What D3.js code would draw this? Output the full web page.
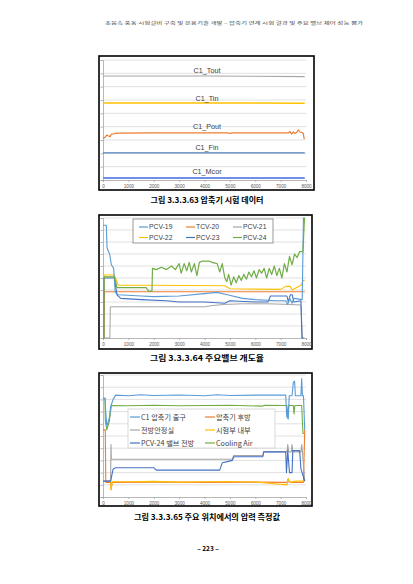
<!DOCTYPE html>
<html><head><meta charset="utf-8">
<script src="https://cdn.jsdelivr.net/npm/d3@7"></script>
<style>html,body{margin:0;padding:0;background:#fff}svg{display:block}</style>
</head><body>
<script>
// ---------- data ----------
const xTickValues = [0,1000,2000,3000,4000,5000,6000,7000,8000];
const xTickLabels = ["0","1000","2000","3000","4000","5000","6000","7000","8000"];

// Chart 1 (압축기 시험 데이터) – y in grid units (0..9)
const c1Names = ["C1_Tout","C1_Tin","C1_Pout","C1_Fin","C1_Mcor"];
const c1Tout = [[0,7.8],[600,7.8],[2000,7.8],[4000,7.8],[6000,7.78],[7950,7.75]];
const c1Tin  = [[0,5.78],[4000,5.78],[7950,5.76]];
const c1Pout = [[0,3.13],[80,3.2],[145,3.37],[220,3.3],[276,3.25],[340,3.45],[407,3.45],[500,3.5],[605,3.52],[2000,3.53],[4900,3.53],[5000,3.5],[5100,3.53],[7300,3.53],[7370,3.63],[7430,3.45],[7500,3.6],[7560,3.5],[7620,3.55],[7697,3.75],[7760,3.6],[7850,3.55],[7894,3.5],[7920,3.13],[7960,3.13]];
const c1Fin  = [[0,2.03],[4000,2.03],[7950,2.03]];
const c1Mcor = [[0,0.15],[4000,0.15],[7950,0.15]];

// Chart 2 (주요밸브 개도율) – percent
const c2Names = ["PCV-19","TCV-20","PCV-21","PCV-22","PCV-23","PCV-24"];
const pcv19 = [[0,94],[130,94],[160,75],[260,70],[330,61],[420,58],[480,38],[600,36],[1500,35],[2000,34.5],[3000,35],[4000,37],[4500,38],[4900,36],[5500,33],[6000,32],[6800,31],[7200,31],[7280,28],[7360,33],[7450,29],[7520,33],[7850,32],[7900,100],[7950,100]];
const tcv20 = [[0,0],[40,0],[60,38.5],[2000,38.5],[5000,38.5],[7950,38.5]];
const pcv21 = [[0,0],[270,0],[290,26],[1000,26],[2000,26],[3000,26],[4000,26],[4300,27],[4800,28],[5500,28.5],[6500,28.5],[7300,28],[7800,27.5],[7860,0],[7950,0]];
const pcv22 = [[0,0],[30,0],[40,52.5],[450,52.5],[600,44],[2000,44],[4800,43.5],[5000,41],[7000,40.5],[7200,43],[7380,43],[7450,40],[7800,44],[7900,48],[7950,48]];
const pcv23 = [[0,0],[30,0],[40,50],[450,50],[550,36],[700,33],[1500,32],[2500,31],[3000,30],[4000,30],[4800,29],[5000,31],[6000,30],[6500,30],[6600,35],[7250,35],[7300,30],[7380,36],[7460,36],[7520,30],[7800,31],[7840,0],[7900,0]];
const pcv24 = [[0,0],[30,0],[40,51],[450,51],[550,42],[1700,42],[1800,39],[1930,39],[1950,58],[2100,57],[2300,59],[2500,57],[2700,60],[2850,57],[3000,62],[3080,54],[3200,62],[3300,56],[3400,63],[3480,55],[3600,62],[3700,52],[3800,63],[3900,64],[4200,64],[4300,63],[4500,62],[4600,55],[4700,62],[4800,50],[4880,47],[4950,53],[5050,44],[5150,51],[5250,46],[5350,52],[5450,48],[5550,53],[5650,49],[5750,55],[5850,51],[5950,56],[6050,50],[6150,57],[6250,54],[6350,58],[6450,50],[6550,58],[6650,53],[6750,60],[6850,52],[6950,58],[7050,50],[7150,62],[7250,55],[7350,68],[7450,61],[7550,70],[7650,67],[7750,72],[7880,72],[7940,100]];

// Chart 3 (주요 위치에서의 압력 측정값) – y in grid units (0..10)
const c3Names = ["C1 압축기 출구","압축기 후방","전방안정실","시험부 내부","PCV-24 밸브 전방","Cooling Air"];
const p1 = [[0,8.1],[80,8.1],[100,7.2],[150,5.8],[250,6.5],[300,7.4],[400,8.0],[500,8.35],[1000,8.3],[1500,8.38],[2000,8.32],[3000,8.36],[4000,8.3],[4500,8.38],[5000,8.32],[6000,8.35],[7200,8.35],[7240,6.6],[7300,6.4],[7340,8.3],[7450,8.3],[7500,9.4],[7550,9.5],[7580,8.3],[7800,8.3],[7830,9.7],[7860,8.3],[7900,8.3],[7950,5.5]];
const p2 = [[0,5.5],[90,5.5],[110,1.2],[300,1.2],[320,0.6],[360,1.2],[2000,1.22],[4000,1.2],[6000,1.22],[7250,1.2],[7300,1.5],[7350,1.2],[7900,1.2],[7950,5.5]];
const p3 = [[0,1.3],[300,1.3],[315,4.3],[330,3.1],[5100,3.1],[5150,3.4],[6300,3.4],[6330,3.7],[7250,3.7],[7280,4.3],[7320,3.7],[7420,3.7],[7450,4.3],[7480,3.7],[7800,3.7],[7830,4.3],[7860,3.7],[7950,1.3]];
const p4 = [[0,1.3],[300,1.3],[320,0.6],[360,1.25],[1000,1.25],[2000,1.28],[3000,1.22],[4000,1.25],[5000,1.27],[6000,1.23],[7250,1.0],[7300,1.5],[7350,1.2],[7600,1.3],[7950,1.3]];
const p5 = [[0,1.3],[300,1.3],[330,1.6],[400,2.3],[500,2.4],[2000,2.4],[2100,2.2],[4600,2.2],[4700,2.8],[4900,2.9],[5100,3.0],[5150,3.3],[6300,3.3],[6330,3.7],[7200,3.7],[7230,2.0],[7280,3.8],[7350,2.0],[7450,2.0],[7480,3.8],[7750,3.8],[7800,2.3],[7950,1.3]];
const p6 = [[0,8.1],[80,8.1],[90,6.3],[150,5.5],[250,6.2],[330,7.5],[1000,7.48],[2000,7.52],[3000,7.48],[4000,7.5],[5000,7.52],[6300,7.45],[6350,7.52],[7250,7.5],[7280,6.6],[7320,7.5],[7500,7.5],[7530,6.8],[7560,7.5],[7830,7.5],[7880,5.2],[7950,5.2]];

const headerText = "초음속 풍동 시험설비 구축 및 운용기술 개발 – 압축기 연계 시험 결과 및 주요 밸브 제어 성능 평가";
const captions = ["그림 3.3.3.63 압축기  시험  데이터","그림 3.3.3.64 주요밸브 개도율","그림 3.3.3.65 주요 위치에서의 압력 측정값"];
const pageNumber = "– 223 –";

// ---------- drawing ----------
const W = 413, H = 584;
const svg = d3.select("body").append("svg").attr("width", W).attr("height", H);
svg.append("rect").attr("width", W).attr("height", H).attr("fill", "#fff");

const colBlue = "#5B9BD5", colOrange = "#ED7D31", colGrey = "#A5A5A5", colGold = "#FFC000", colDBlue = "#4472C4", colGreen = "#70AD47";
const fontTxt = "'Noto Sans CJK KR','Noto Sans',sans-serif";

svg.append("text").attr("x", 105).attr("y", 24.5).attr("font-size", 4).attr("fill", "#444")
  .attr("font-family", fontTxt).attr("textLength", 258).attr("lengthAdjust", "spacingAndGlyphs").text(headerText);

function chart(cfg) {
  const g = svg.append("g");
  g.append("rect").attr("x", cfg.frame[0]).attr("y", cfg.frame[1])
    .attr("width", cfg.frame[2] - cfg.frame[0]).attr("height", cfg.frame[3] - cfg.frame[1])
    .attr("fill", "#fff").attr("stroke", "#000").attr("stroke-width", 1.6);
  const x = d3.scaleLinear().domain([0, 8000]).range([103, 306]);
  const y = d3.scaleLinear().domain([0, cfg.ymax]).range([cfg.bottom, cfg.top]);
  const yt = d3.range(0, cfg.ymax + 0.001, 1);
  g.append("g").selectAll("line").data(yt.slice(1)).join("line")
    .attr("x1", 103).attr("x2", 306).attr("y1", d => y(d)).attr("y2", d => y(d))
    .attr("stroke", "#D9D9D9").attr("stroke-width", 0.8);
  // y axis with ticks, no labels
  const ya = g.append("g").attr("transform", "translate(103,0)")
    .call(d3.axisLeft(y).tickValues(yt).tickSize(2.5).tickFormat(""));
  ya.selectAll("path,line").attr("stroke", "#A6A6A6").attr("stroke-width", 0.8);
  const xa = g.append("g").attr("transform", `translate(0,${cfg.bottom})`)
    .call(d3.axisBottom(x).tickValues(xTickValues).tickSize(2).tickFormat((d, i) => xTickLabels[i]));
  xa.selectAll("path,line").attr("stroke", "#A6A6A6").attr("stroke-width", 0.8);
  xa.selectAll("text").attr("font-size", 4.6).attr("fill", "#595959").attr("font-family", "'Liberation Sans',sans-serif").attr("dy", "0.55em");
  const line = d3.line().x(d => x(d[0])).y(d => y(d[1]));
  cfg.series.forEach(s => {
    g.append("path").datum(s.data).attr("d", line).attr("fill", "none")
      .attr("stroke", s.color).attr("stroke-width", s.w || 1.1).attr("stroke-linejoin", "round");
  });
  return {g, x, y};
}

// Chart 1
const ch1 = chart({frame: [99, 56, 314, 190], top: 60, bottom: 180, ymax: 9, series: [
  {data: c1Tout, color: colGrey, w: 1.2},
  {data: c1Tin, color: colGold, w: 1.4},
  {data: c1Pout, color: colOrange, w: 1.2},
  {data: c1Fin, color: "#4F81BD", w: 1.2},
  {data: c1Mcor, color: "#6F8FE8", w: 2}
]});
const lbl1 = [[c1Names[0], 7.8], [c1Names[1], 5.78], [c1Names[2], 3.53], [c1Names[3], 2.03], [c1Names[4], 0.15]];
const lblOff = [3.5, 2.2, 4.2, 3.2, 4.0];
ch1.g.selectAll("text.lbl").data(lbl1).join("text").attr("class", "lbl")
  .attr("x", 207).attr("y", (d, i) => ch1.y(d[1]) - lblOff[i]).attr("text-anchor", "middle")
  .attr("font-size", 7.2).attr("fill", "#404040").attr("font-family", "'Liberation Sans',sans-serif").text(d => d[0]);

// Chart 2
const ch2 = chart({frame: [99, 215, 312, 349], top: 218, bottom: 338, ymax: 10, series: [
  {data: pcv21.map(d => [d[0], d[1] / 10]), color: colGrey, w: 1},
  {data: tcv20.map(d => [d[0], d[1] / 10]), color: colOrange},
  {data: pcv22.map(d => [d[0], d[1] / 10]), color: colGold},
  {data: pcv23.map(d => [d[0], d[1] / 10]), color: colDBlue},
  {data: pcv19.map(d => [d[0], d[1] / 10]), color: colBlue},
  {data: pcv24.map(d => [d[0], d[1] / 10]), color: colGreen, w: 1.2}
]});
const c2Colors = [colBlue, colOrange, colGrey, colGold, colDBlue, colGreen];
{
  const lg = ch2.g.append("g");
  lg.append("rect").attr("x", 133).attr("y", 219).attr("width", 140).attr("height", 24)
    .attr("fill", "#fff").attr("stroke", "#7F7F7F").attr("stroke-width", 0.8);
  c2Names.forEach((n, i) => {
    const cx = [139, 186, 233][i % 3], cy = [227, 237.5][Math.floor(i / 3)];
    lg.append("line").attr("x1", cx).attr("x2", cx + 9).attr("y1", cy).attr("y2", cy).attr("stroke", c2Colors[i]).attr("stroke-width", 1.2);
    lg.append("text").attr("x", cx + 10).attr("y", cy + 2.4).attr("font-size", 6.8).attr("fill", "#404040")
      .attr("font-family", "'Liberation Sans',sans-serif").text(n);
  });
}

// Chart 3
const ch3 = chart({frame: [99, 373, 312, 506], top: 375, bottom: 497, ymax: 10, series: [
  {data: p6, color: colGreen},
  {data: p1, color: colBlue},
  {data: p2, color: colOrange},
  {data: p4, color: colGold, w: 1.2},
  {data: p3, color: colGrey},
  {data: p5, color: colDBlue}
]});
const c3Colors = [colBlue, colOrange, colGrey, colGold, colDBlue, colGreen];
{
  const lg = ch3.g.append("g");
  lg.append("rect").attr("x", 128).attr("y", 409).attr("width", 147).attr("height", 39)
    .attr("fill", "#fff").attr("stroke", "#D0D0D0").attr("stroke-width", 0.8);
  c3Names.forEach((n, i) => {
    const cx = [130, 205][i % 2], cy = [417, 430, 443][Math.floor(i / 2)];
    lg.append("line").attr("x1", cx).attr("x2", cx + 10).attr("y1", cy).attr("y2", cy).attr("stroke", c3Colors[i]).attr("stroke-width", 1.2);
    lg.append("text").attr("x", cx + 11).attr("y", cy + 2.7).attr("font-size", 7.2).attr("fill", "#404040")
      .attr("font-family", fontTxt).text(n);
  });
}

// captions
const capY = [203, 361, 520], capW = [113, 114, 146];
captions.forEach((c, i) => {
  svg.append("text").attr("x", 207).attr("y", capY[i]).attr("text-anchor", "middle")
    .attr("font-size", 8).attr("font-weight", "bold").attr("fill", "#000").attr("font-family", fontTxt)
    .attr("textLength", capW[i]).attr("lengthAdjust", "spacingAndGlyphs").text(c);
});
svg.append("text").attr("x", 208).attr("y", 550.5).attr("text-anchor", "middle").attr("font-size", 6.5)
  .attr("font-weight", "bold").attr("fill", "#000").attr("font-family", fontTxt).text(pageNumber);
</script>
</body></html>
